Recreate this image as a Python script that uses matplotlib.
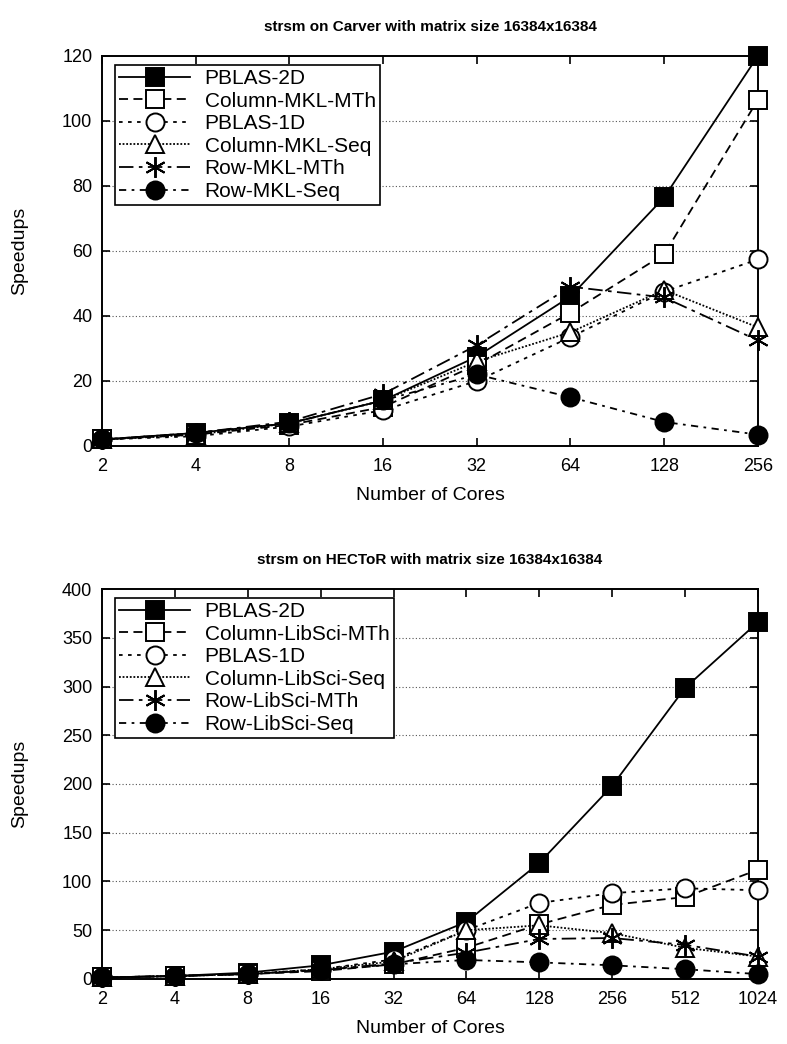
import matplotlib
matplotlib.use('Agg')
import matplotlib.pyplot as plt
from matplotlib.ticker import FixedLocator, NullLocator

plt.rcParams['font.family'] = ['Liberation Sans', 'DejaVu Sans']

# Carver data
carver_cores = [2, 4, 8, 16, 32, 64, 128, 256]
carver_labels = ['PBLAS-2D', 'Column-MKL-MTh', 'PBLAS-1D', 'Column-MKL-Seq', 'Row-MKL-MTh', 'Row-MKL-Seq']
carver_pblas2d = [2, 4, 7, 14, 27.5, 46, 76.5, 120]
carver_col_mth = [2, 3.5, 6.5, 12, 25, 41, 59, 106.5]
carver_pblas1d = [2, 3, 6, 11, 20, 33.5, 47.5, 57.4]
carver_col_seq = [2, 3.5, 7, 14, 26, 35, 48, 36.5]
carver_row_mth = [2, 4, 7.5, 16, 31, 49, 45.7, 32.5]
carver_row_seq = [2, 4, 7, 14, 22, 15, 7.4, 3.5]

# HECToR data
hector_cores = [2, 4, 8, 16, 32, 64, 128, 256, 512, 1024]
hector_labels = ['PBLAS-2D', 'Column-LibSci-MTh', 'PBLAS-1D', 'Column-LibSci-Seq', 'Row-LibSci-MTh', 'Row-LibSci-Seq']
hector_pblas2d = [1.5, 3, 6.5, 14, 28, 58.5, 119, 198, 298.5, 366]
hector_col_mth = [1.5, 3, 5, 8, 15, 32, 56, 76, 84, 112]
hector_pblas1d = [1.5, 3, 5, 10, 20, 50, 78, 88, 93, 91]
hector_col_seq = [1.5, 3, 5, 10, 18, 50, 55, 47, 32, 23]
hector_row_mth = [1.5, 3, 5, 9, 16, 27, 41, 42, 35, 23]
hector_row_seq = [1.5, 3, 5, 9, 15, 19.5, 17, 14, 10, 5]

styles = [
    dict(linestyle='-', marker='s', mfc='black'),
    dict(linestyle=(0, (5, 3)), marker='s', mfc='white'),
    dict(linestyle=(0, (2, 3)), marker='o', mfc='white'),
    dict(linestyle=(0, (1, 1)), marker='^', mfc='white'),
    dict(linestyle=(0, (8, 3, 2, 3)), marker=(6, 2, 0), mfc='white'),
    dict(linestyle=(0, (4, 3, 1.5, 3)), marker='o', mfc='black'),
]

fig = plt.figure(figsize=(7.87, 10.44), dpi=100)
ax1 = fig.add_axes([0.1296, 0.5728, 0.8334, 0.3736])
ax2 = fig.add_axes([0.1296, 0.0623, 0.8334, 0.3735])


def draw(ax, cores, series, labels, ymax, ystep, title):
    for vals, lab, st in zip(series, labels, styles):
        ms = 15 if st['marker'] == (6, 2, 0) else 13
        ax.plot(cores, vals, color='black', lw=1.3, linestyle=st['linestyle'],
                marker=st['marker'], mfc=st['mfc'], mec='black', mew=1.4,
                markersize=ms, label=lab, clip_on=False, zorder=3)
    ax.set_xscale('log', base=2)
    ax.set_xlim(cores[0], cores[-1])
    ax.set_ylim(0, ymax)
    ax.xaxis.set_major_locator(FixedLocator(cores))
    ax.xaxis.set_minor_locator(NullLocator())
    ax.set_xticklabels([str(c) for c in cores])
    yt = list(range(0, ymax + 1, ystep))
    ax.set_yticks(yt)
    for y in yt[1:-1]:
        ax.axhline(y, color='#555555', lw=0.8, linestyle=(0, (1, 2)), zorder=1)
    ax.tick_params(direction='in', top=True, right=True, length=6, width=1.2,
                   labelsize=13)
    ax.tick_params(axis='x', pad=9)
    ax.tick_params(axis='y', pad=7)
    for sp in ax.spines.values():
        sp.set_linewidth(1.4)
    ax.set_xlabel('Number of Cores', fontsize=14)
    ax.xaxis.set_label_coords(0.5, -0.105)
    ax.xaxis.label.set_va('top')
    ax.set_ylabel('Speedups', fontsize=14)
    ax.yaxis.set_label_coords(-0.112, 0.5)
    ax.set_title(title, fontsize=11, fontweight='bold', pad=18)
    leg = ax.legend(loc='upper left', bbox_to_anchor=(0.02, 0.977), fontsize=15,
                    frameon=True, fancybox=False, edgecolor='black',
                    framealpha=1, handlelength=3.4, borderpad=0.2,
                    labelspacing=0.17, handletextpad=0.7, borderaxespad=0)
    leg.get_frame().set_linewidth(1.2)
    leg.set_zorder(5)


draw(ax1, carver_cores,
     [carver_pblas2d, carver_col_mth, carver_pblas1d, carver_col_seq, carver_row_mth, carver_row_seq],
     carver_labels, 120, 20, 'strsm on Carver with matrix size 16384x16384')
draw(ax2, hector_cores,
     [hector_pblas2d, hector_col_mth, hector_pblas1d, hector_col_seq, hector_row_mth, hector_row_seq],
     hector_labels, 400, 50, 'strsm on HECToR with matrix size 16384x16384')

fig.savefig('out.png', dpi=100)
